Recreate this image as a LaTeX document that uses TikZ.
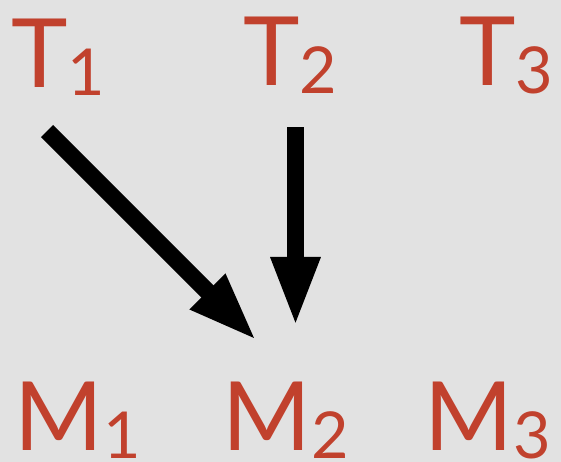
\documentclass[tikz,border=0pt]{standalone}
\usepackage{fontspec}
\setmainfont{Lato}
\usetikzlibrary{arrows.meta}

\definecolor{slidegray}{HTML}{E2E2E2}
\definecolor{labelred}{HTML}{C1412D}

\newcommand{\lowidx}[1]{\raisebox{-5.7pt}{\fontsize{46}{46}\selectfont #1}}

\begin{document}
\begin{tikzpicture}[
  x=0.025cm, y=-0.025cm,
  var/.style={
    anchor=base west, inner sep=0pt, text=labelred,
    font=\fontsize{68}{68}\selectfont
  },
  big/.style={
    -{Triangle[length=1.75cm, width=1.125cm]}, line width=0.425cm, black
  }
]

% Background
\fill[slidegray] (0,0) rectangle (561,462);
\useasboundingbox (0,0) rectangle (561,462);

% Top row
\node[var] (t1) at (11,87)  {T\lowidx{1}};
\node[var] (t2) at (243,85) {T\lowidx{2}};
\node[var] (t3) at (459,85) {T\lowidx{3}};

% Bottom row
\node[var] (m1) at (14,450)  {M\lowidx{1}};
\node[var] (m2) at (222,450) {M\lowidx{2}};
\node[var] (m3) at (424,450) {M\lowidx{3}};

% Arrow ends
\coordinate (from1) at (47,131);
\coordinate (to1)   at (257,341);
\coordinate (from2) at (295.5,127);
\coordinate (to2)   at (295.5,327);

% Arrows
\draw[big] (from1) -- (to1);
\draw[big] (from2) -- (to2);

\end{tikzpicture}
\end{document}
